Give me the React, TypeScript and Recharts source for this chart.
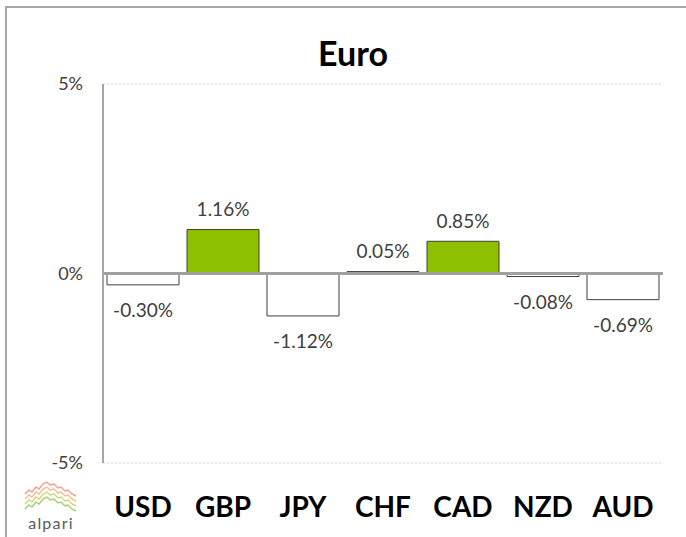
import React from "react";
import { BarChart, Bar, XAxis, YAxis, CartesianGrid, ReferenceLine, LabelList, Cell } from "recharts";

const title = "Euro";
const currencies = ["USD", "GBP", "JPY", "CHF", "CAD", "NZD", "AUD"];
const changes = [-0.3, 1.16, -1.12, 0.05, 0.85, -0.08, -0.69];
const yTicks = [-5, 0, 5];

const data = currencies.map((c, i) => ({ name: c, value: changes[i] }));

const FONT = "Lato, 'Open Sans', sans-serif";

const ValueLabel = (props: any) => {
  const { x, y, width, height, value } = props;
  const top = Math.min(y, y + height);
  const bottom = Math.max(y, y + height);
  const cx = x + width / 2;
  const cy = value >= 0 ? top - 21 : bottom + 25;
  return (
    <text
      x={cx}
      y={cy}
      textAnchor="middle"
      dominantBaseline="central"
      fontFamily={FONT}
      fontSize={19}
      fill="#404040"
    >
      {`${value.toFixed(2)}%`}
    </text>
  );
};

const logoOffsets = [0, 5, 10, 15];
const logoColors = ["#f4a08e", "#f2c08a", "#d6d47a", "#a6d070"];
const logoShape = "25,494 29,490 32,492 36,487 39,489 43,484 47,482 50,485 54,484 58,488 61,487 65,491 68,490 72,494 76,496";

export default function App() {
  return (
    <div style={{ position: "absolute", left: 0, top: 0, width: 686, height: 537, overflow: "hidden", background: "#fff" }}>
      <div
        style={{
          position: "absolute",
          left: 5,
          top: 6,
          width: 700,
          height: 560,
          borderLeft: "2px solid #a6a6a6",
          borderTop: "2px solid #a6a6a6",
        }}
      />
      <div
        style={{
          position: "absolute",
          left: 0,
          width: 706,
          top: 32,
          textAlign: "center",
          fontFamily: FONT,
          fontWeight: 700,
          fontSize: 34,
          lineHeight: "42px",
          color: "#000",
        }}
      >
        {title}
      </div>
      <div style={{ position: "absolute", left: 0, top: 0 }}>
        <BarChart
          width={686}
          height={537}
          data={data}
          margin={{ top: 84, right: 23, bottom: 44, left: 0 }}
          barCategoryGap="5%"
        >
          <CartesianGrid vertical={false} stroke="#f2c4c4" strokeDasharray="2 2" />
          <YAxis
            type="number"
            domain={[-5, 5]}
            ticks={yTicks}
            width={103}
            tickFormatter={(v: number) => `${v}%`}
            tickLine={false}
            tickSize={0}
            tickMargin={20}
            axisLine={{ stroke: "#a6a6a6", strokeWidth: 2 }}
            tick={{ fontFamily: FONT, fontSize: 18, fill: "#404040" }}
          />
          <XAxis
            dataKey="name"
            height={30}
            axisLine={false}
            tickLine={false}
            tickSize={0}
            tickMargin={34}
            interval={0}
            tick={{ fontFamily: FONT, fontSize: 28, fontWeight: 700, fill: "#000" }}
          />
          <Bar dataKey="value" stroke="#404040" strokeWidth={1} isAnimationActive={false}>
            {data.map((d, i) => (
              <Cell key={i} fill={d.value >= 0 ? "#8cc000" : "#ffffff"} />
            ))}
            <LabelList dataKey="value" content={ValueLabel} />
          </Bar>
          <ReferenceLine y={0} stroke="#a0a0a0" strokeWidth={3} />
        </BarChart>
      </div>
      <svg style={{ position: "absolute", left: 0, top: 0 }} width={686} height={537}>
        {logoOffsets.map((o, i) => (
          <polyline
            key={i}
            points={logoShape}
            transform={`translate(0, ${o})`}
            fill="none"
            stroke={logoColors[i]}
            strokeWidth={1.4}
          />
        ))}
        <text x={51} y={529} textAnchor="middle" fontFamily={FONT} fontSize={16} letterSpacing={1.2} fill="#5a5a5a">
          alpari
        </text>
      </svg>
    </div>
  );
}
